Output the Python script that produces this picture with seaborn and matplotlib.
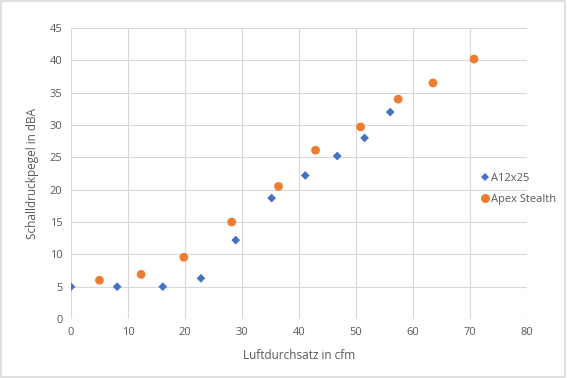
import pandas as pd
import matplotlib.pyplot as plt
import seaborn as sns

a12_cfm = [0.0, 8.1, 16.1, 22.8, 28.9, 35.2, 41.1, 46.7, 51.5, 56.0]
a12_dba = [5.0, 5.0, 5.0, 6.3, 12.2, 18.7, 22.2, 25.2, 28.0, 32.0]
apex_cfm = [5.0, 12.3, 19.8, 28.2, 36.4, 42.9, 50.8, 57.4, 63.5, 70.7]
apex_dba = [6.0, 6.9, 9.55, 15.0, 20.5, 26.1, 29.7, 34.0, 36.5, 40.2]

df = pd.concat([
    pd.DataFrame({"cfm": a12_cfm, "dba": a12_dba, "fan": "A12x25"}),
    pd.DataFrame({"cfm": apex_cfm, "dba": apex_dba, "fan": "Apex Stealth"}),
])

sns.set_style("white")
plt.rcParams["font.family"] = ["Open Sans", "DejaVu Sans"]
txt = "#595959"
grid = "#d9d9d9"

fig = plt.figure(figsize=(5.67, 3.78), dpi=100)
ax = fig.add_axes([0.1252, 0.156, 0.8043, 0.770])

sns.scatterplot(data=df, x="cfm", y="dba", hue="fan", style="fan",
                palette={"A12x25": "#4472C4", "Apex Stealth": "#ED7D31"},
                markers={"A12x25": "D", "Apex Stealth": "o"},
                s=40, linewidth=0, ax=ax, zorder=3)
# diamonds smaller than circles
sizes = [20] * len(a12_cfm) + [40] * len(apex_cfm)
ax.collections[0].set_sizes(sizes)

ax.set_xlim(0, 80)
ax.set_ylim(0, 45)
ax.set_xticks(range(0, 81, 10))
ax.set_yticks(range(0, 46, 5))
ax.grid(True, color=grid, linewidth=0.8)
for sp in ax.spines.values():
    sp.set_visible(False)
ax.tick_params(colors=txt, labelsize=8, length=0, pad=6)
ax.set_xlabel("Luftdurchsatz in cfm", color=txt, fontsize=8.5, labelpad=8)
ax.set_ylabel("Schalldruckpegel in dBA", color=txt, fontsize=8.5, labelpad=8)

leg = ax.legend(loc="center left", bbox_to_anchor=(0.895, 0.448), frameon=False,
                fontsize=8, labelcolor=txt, handletextpad=0.05,
                labelspacing=0.9, borderaxespad=0.0, borderpad=0.0,
                handlelength=1.0)
leg.legend_handles[0].set_markersize(4.5)
leg.legend_handles[1].set_markersize(6.5)

fig.patches.append(plt.Rectangle((0.002, 0.003), 0.995, 0.994, transform=fig.transFigure,
                                 fill=False, edgecolor="#d9d9d9", linewidth=1.2))

fig.savefig("out.png", dpi=100)
